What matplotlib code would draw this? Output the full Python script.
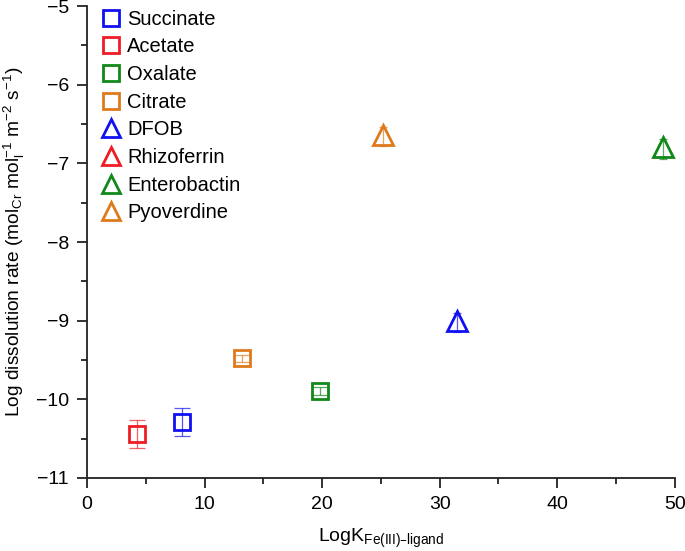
import matplotlib
matplotlib.use('Agg')
import matplotlib.pyplot as plt
from matplotlib.ticker import MultipleLocator

plt.rcParams['font.family'] = ['Liberation Sans', 'DejaVu Sans']
plt.rcParams['mathtext.default'] = 'regular'

# Dados
ligantes = ['Succinate', 'Acetate', 'Oxalate', 'Citrate',
            'DFOB', 'Rhizoferrin', 'Enterobactin', 'Pyoverdine']
cores = ['#1010f0', '#ee1c24', '#12871a', '#de7a1c',
         '#1010f0', '#ee1c24', '#12871a', '#de7a1c']
marcadores = ['s', 's', 's', 's', '^', '^', '^', '^']
logk = [8.1, 4.25, 19.8, 13.2, 31.5, None, 49.0, 25.2]
taxa = [-10.29, -10.44, -9.89, -9.48, -9.0, None, -6.79, -6.64]
erro_inf = [0.18, 0.18, 0.05, 0.05, 0.14, None, 0.15, 0.14]
erro_sup = [0.18, 0.18, 0.05, 0.05, 0.1, None, 0.1, 0.1]

fig = plt.figure(figsize=(6.85, 5.51), dpi=100)
ax = fig.add_axes([0.127, 0.1325, 0.858, 0.8565])

for nome, cor, mk, x, y, ei, es in zip(ligantes, cores, marcadores, logk, taxa,
                                      erro_inf, erro_sup):
    tam = 11 if mk == 's' else 14
    if x is None:
        # sem ponto, apenas na legenda
        ax.plot([], [], linestyle='none', marker=mk, markersize=tam,
                markerfacecolor='none', markeredgecolor=cor, markeredgewidth=2,
                label=nome)
        continue
    ax.errorbar(x, y, yerr=[[ei], [es]], fmt='none', ecolor=cor, elinewidth=0.9,
                capsize=6 if mk == 's' else 3, capthick=0.9, alpha=0.7)
    ax.plot(x, y, linestyle='none', marker=mk, markersize=tam,
            markerfacecolor='none', markeredgecolor=cor, markeredgewidth=2,
            label=nome)

ax.set_xlim(0, 50)
ax.set_ylim(-11, -5)
ax.xaxis.set_major_locator(MultipleLocator(10))
ax.xaxis.set_minor_locator(MultipleLocator(5))
ax.yaxis.set_major_locator(MultipleLocator(1))
ax.yaxis.set_minor_locator(MultipleLocator(0.5))

for s in ['top', 'right']:
    ax.spines[s].set_visible(False)
for s in ['left', 'bottom']:
    ax.spines[s].set_linewidth(1.3)
    ax.spines[s].set_color('#222222')

ax.tick_params(which='major', direction='out', length=7, width=1.3,
               labelsize=14, pad=6, color='#222222')
ax.tick_params(which='minor', direction='out', length=4, width=1.3, color='#222222')

ax.set_xlabel('LogK$_{Fe(III)\u2013ligand}$', fontsize=14, labelpad=10)
ax.set_ylabel('Log dissolution rate (mol$_{Cr}$ mol$_{l}^{-1}$ m$^{-2}$ s$^{-1}$)',
              fontsize=13.8, labelpad=6)

leg = ax.legend(loc='upper left', bbox_to_anchor=(0.0, 1.02), frameon=False,
                fontsize=14.5, handletextpad=0.25, labelspacing=0.43,
                handlelength=1.1, borderaxespad=0.25)
for h in leg.legend_handles:
    h.set_markersize(11 if h.get_marker() == 's' else 13)

fig.savefig('out.png', dpi=100)
